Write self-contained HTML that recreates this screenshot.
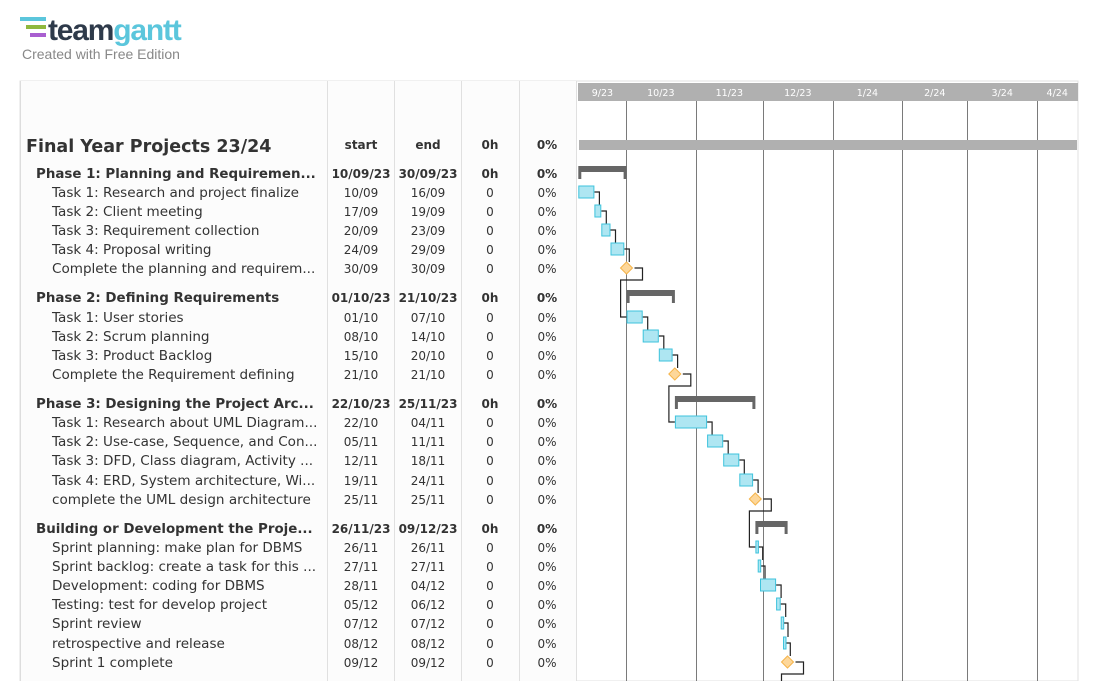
<!DOCTYPE html>
<html><head><meta charset="utf-8"><style>
body{margin:0;background:#fff;width:1104px;height:681px;overflow:hidden;font-family:"DejaVu Sans","Liberation Sans",sans-serif}
svg text{font-family:"DejaVu Sans","Liberation Sans",sans-serif}
</style></head><body>
<svg id="g" width="1104" height="681">
<g>
<rect x="20" y="17" width="26" height="4" fill="#5bc6dc"/>
<rect x="26" y="25" width="20" height="4" fill="#8fb83e"/>
<rect x="30" y="33" width="16" height="4" fill="#a95fd0"/>
<text x="48" y="40" font-size="30" font-weight="bold" fill="#2e3a4a" letter-spacing="-1.2" style="font-family:'Liberation Sans',sans-serif">team<tspan fill="#5bc6dc">gantt</tspan></text>
<text x="22" y="59" font-size="14" fill="#888" style="font-family:'Liberation Sans',sans-serif">Created with Free Edition</text>
</g>
<rect x="20" y="81" width="1058" height="600" fill="#fff" stroke="#e2e2e2"/>
<rect x="20" y="81" width="556" height="600" fill="#fcfcfc"/>
<line x1="20.5" y1="81" x2="20.5" y2="681" stroke="#ddd"/>
<g stroke="#e0e0e0"><line x1="327.5" y1="81" x2="327.5" y2="681"/><line x1="394.5" y1="81" x2="394.5" y2="681"/><line x1="461.5" y1="81" x2="461.5" y2="681"/><line x1="519.5" y1="81" x2="519.5" y2="681"/><line x1="576.5" y1="81" x2="576.5" y2="681"/></g>
<rect x="578" y="83" width="500" height="18" fill="#b0b0b0"/>
<g id="grid"></g><g id="tbl"></g><g id="bars"></g>
</svg>
<script>
const monthLabels=["9/23","10/23","11/23","12/23","1/24","2/24","3/24","4/24"];
const rowNames=["Phase 1: Planning and Requiremen...","Task 1: Research and project finalize","Task 2: Client meeting","Task 3: Requirement collection","Task 4: Proposal writing","Complete the planning and requirem...",
"Phase 2: Defining Requirements","Task 1: User stories","Task 2: Scrum planning","Task 3: Product Backlog","Complete the Requirement defining",
"Phase 3: Designing the Project Arc...","Task 1: Research about UML Diagram...","Task 2: Use-case, Sequence, and Con...","Task 3: DFD, Class diagram, Activity ...","Task 4: ERD, System architecture, Wi...","complete the UML design architecture",
"Building or Development the Proje...","Sprint planning: make plan for DBMS","Sprint backlog: create a task for this ...","Development: coding for DBMS","Testing: test for develop project","Sprint review","retrospective and release","Sprint 1 complete"];
const rowTypes=["p","t","t","t","t","m","p","t","t","t","m","p","t","t","t","t","m","p","t","t","t","t","t","t","m"];
const rowStart=["2023-09-10","2023-09-10","2023-09-17","2023-09-20","2023-09-24","2023-09-30","2023-10-01","2023-10-01","2023-10-08","2023-10-15","2023-10-21","2023-10-22","2023-10-22","2023-11-05","2023-11-12","2023-11-19","2023-11-25","2023-11-26","2023-11-26","2023-11-27","2023-11-28","2023-12-05","2023-12-07","2023-12-08","2023-12-09"];
const rowEnd=["2023-09-30","2023-09-16","2023-09-19","2023-09-23","2023-09-29","2023-09-30","2023-10-21","2023-10-07","2023-10-14","2023-10-20","2023-10-21","2023-11-25","2023-11-04","2023-11-11","2023-11-18","2023-11-24","2023-11-25","2023-12-09","2023-11-26","2023-11-27","2023-12-04","2023-12-06","2023-12-07","2023-12-08","2023-12-09"];
const rowY=[173,192,211,230,249,268,297,317,336,355,374,403,422,441,460,480,499,528,547,566,585,604,623,643,662];
const NS="http://www.w3.org/2000/svg";
const DAY=2.3;
function days(s,base){const p=s.split("-");return (Date.UTC(+p[0],+p[1]-1,+p[2])-base)/864e5;}
const B0=Date.UTC(2023,8,10),G0=Date.UTC(2023,9,1);
function xd(s){return 578.3+days(s,B0)*DAY;}
function xg(s){return 626+days(s,G0)*2.246;}
function mk(t,a,par){const e=document.createElementNS(NS,t);for(const k in a)e.setAttribute(k,a[k]);par.appendChild(e);return e;}
const grid=document.getElementById("grid"),tbl=document.getElementById("tbl"),bars=document.getElementById("bars");
const mStarts=["2023-09-10","2023-10-01","2023-11-01","2023-12-01","2024-01-01","2024-02-01","2024-03-01","2024-04-01","2024-04-19"];
for(let i=0;i<monthLabels.length;i++){
 const a=Math.max(578,xg(mStarts[i])),b=Math.min(1078,xg(mStarts[i+1]));
 if(i>0){const l=mk("line",{x1:Math.round(a)+.5,y1:101,x2:Math.round(a)+.5,y2:681,stroke:"#7a7a7a"},grid);}
 const t=mk("text",{x:(a+b)/2,y:96,"font-size":"9.5","text-anchor":"middle",fill:"#fff"},grid);t.textContent=monthLabels[i];
 
}
const pb=mk("rect",{x:579,y:140,width:498,height:10,fill:"#b0b0b0"},bars);

function txt(x,y,s,o){const t=mk("text",Object.assign({x:x,y:y,"font-size":"13.55",fill:"#333"},o||{}),tbl);t.textContent=s;return t;}
let h=txt(26,152,"Final Year Projects 23/24",{"font-size":"17.5","font-weight":"bold"});
[["start",361],["end",428],["0h",490],["0%",547]].forEach(c=>{const t=txt(c[1],149,c[0],{"font-size":"12","font-weight":"bold","text-anchor":"middle"});});
function dm(s,full){const p=s.split("-");return p[2]+"/"+p[1]+(full?"/"+p[0].slice(2):"");}
for(let i=0;i<rowNames.length;i++){
 const y=rowY[i]+5,ph=rowTypes[i]=="p",o=ph?{"font-weight":"bold","font-size":"13.4"}:{};
 let t=txt(ph?36:52,y,rowNames[i],o);
 const sm={"text-anchor":"middle","font-size":"12"};if(ph)sm["font-weight"]="bold";
 t=txt(361,y,dm(rowStart[i],ph),sm);
 t=txt(428,y,dm(rowEnd[i],ph),sm);
 t=txt(490,y,ph?"0h":"0",sm);
 t=txt(547,y,"0%",sm);
}
function path(d){const p=mk("path",{d:d,fill:"none",stroke:"#222","stroke-width":"1.2"},bars);}
for(let i=0;i<rowNames.length;i++){
 if(rowTypes[i]=="p")continue;
 const y=rowY[i];
 if(rowTypes[i]=="m"){const mx=xd(rowStart[i])+2.2;
  let j=i+1;if(j<rowNames.length&&rowTypes[j]=="p")j++;
  if(j>=rowNames.length){path(`M${mx+8},${y} H${mx+16} V${y+12} H${mx-6} V681`);continue;}
  const ny=rowY[j],ns=xd(rowStart[j]);
  path(`M${mx+8},${y} H${mx+16} V${y+12} H${ns-6} V${ny} H${ns}`);continue;}
 let j=i+1;if(rowTypes[j]=="p")j++;
 const ny=rowY[j],ns=xd(rowStart[j]);
 const e=xd(rowEnd[i])+DAY,vx=e+5;
 if(ns>=vx+2)path(`M${e},${y} H${vx} V${ny} H${ns}`);
 else path(`M${e},${y} H${vx} V${ny-6}`);
}
for(let i=0;i<rowNames.length;i++){
 const s=xd(rowStart[i]),e=xd(rowEnd[i])+DAY,y=rowY[i];let r;
 if(rowTypes[i]=="p"){
  r=mk("path",{d:`M${s},${y-7} H${e} V${y+6} H${e-3} V${y-1} H${s+3} V${y+6} H${s} Z`,fill:"#666"},bars);
  
 }else if(rowTypes[i]=="m"){
  const cx=s+2.2;r=mk("path",{d:`M${cx},${y-6} L${cx+6},${y} L${cx},${y+6} L${cx-6},${y} Z`,fill:"#fdd79a",stroke:"#f5b44a","stroke-width":"1"},bars);
  
 }else{
  r=mk("rect",{x:s+.5,y:y-6,width:Math.max(2.5,e-s-1),height:12,fill:"#aee6f2",stroke:"#3ec3dc","stroke-width":"1"},bars);
  
 }
 
}
</script>
</body></html>
